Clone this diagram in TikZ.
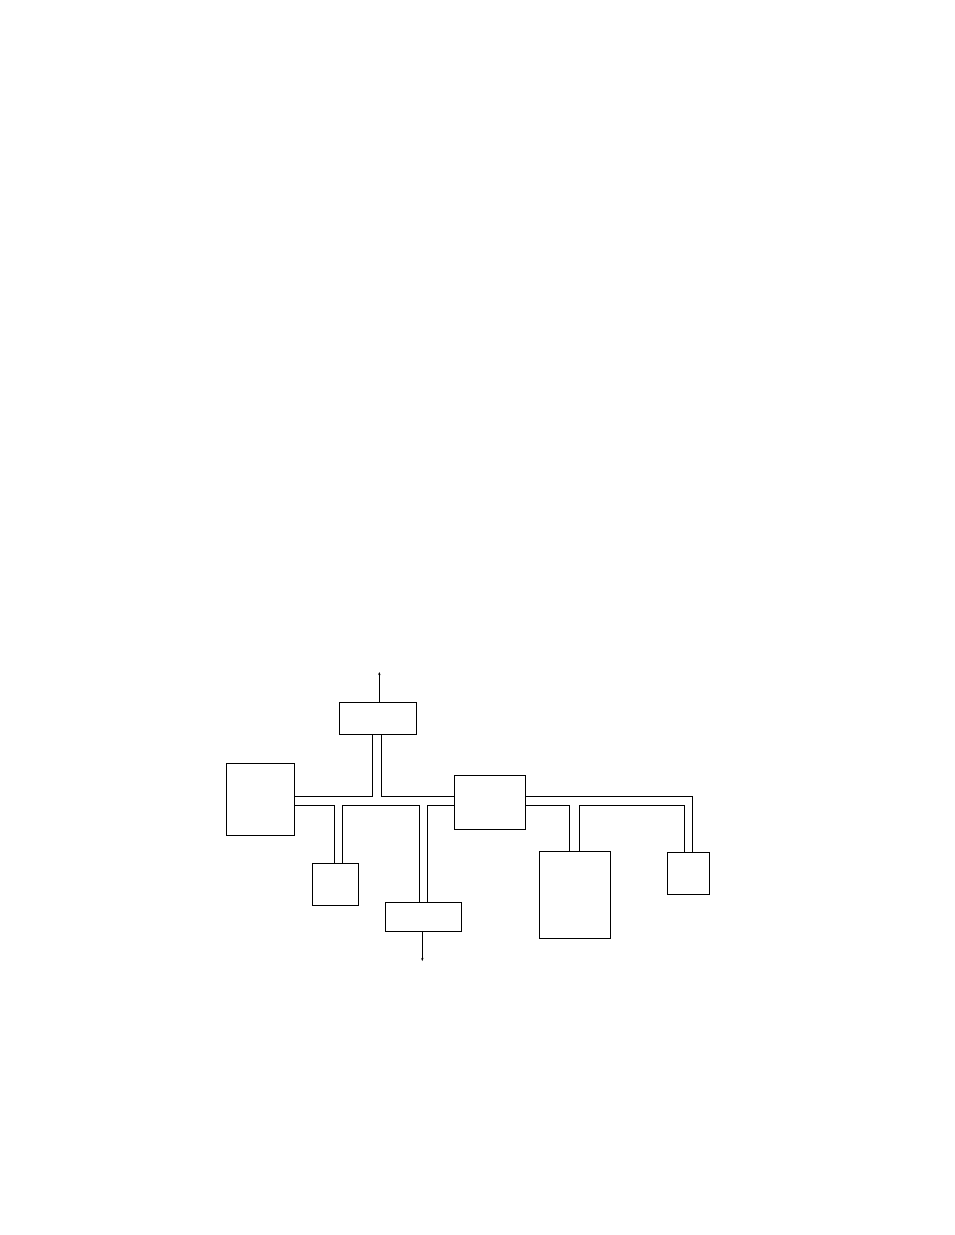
\documentclass[tikz,border=0pt]{standalone}
\usetikzlibrary{arrows.meta}
\begin{document}
\begin{tikzpicture}[x=1pt,y=-1pt,
  blk/.style={draw,line width=0.8pt,inner sep=0pt,rectangle},
  bus/.style={line width=0.8pt},
  arr/.style={line width=0.8pt,-{Stealth[length=3pt,width=2.4pt]}}]
\useasboundingbox (0,0) rectangle (954,1235);
\node[blk,minimum width=77pt,minimum height=32pt] (top) at (377.8,718.3) {};
\node[blk,minimum width=68pt,minimum height=72pt] (left) at (260.3,799.3) {};
\node[blk,minimum width=46pt,minimum height=42pt] (small) at (335.3,884.3) {};
\node[blk,minimum width=76pt,minimum height=29pt] (bot) at (423.3,916.8) {};
\node[blk,minimum width=71pt,minimum height=54pt] (mid) at (489.8,802.3) {};
\node[blk,minimum width=71pt,minimum height=87.3pt] (tall) at (574.8,894.7) {};
\node[blk,minimum width=42pt,minimum height=42pt] (right) at (688.3,873.3) {};
\coordinate (uptip) at (379.3,672);
\coordinate (dntip) at (422.3,961);
% upper bus left
\draw[bus] (left.east |- 0,796.3) -| (top.south -| 372.7,0);
\draw[bus] (top.south -| 381.3,0) |- (mid.west |- 0,796.3);
% lower bus left
\draw[bus] (left.east |- 0,805.3) -| (small.north -| 334.7,0);
\draw[bus] (small.north -| 342.3,0) |- (419.7,805.3) -- (bot.north -| 419.7,0);
\draw[bus] (bot.north -| 427.3,0) |- (mid.west |- 0,805.3);
% right side
\draw[bus] (mid.east |- 0,796.3) -| (right.north -| 692.3,0);
\draw[bus] (mid.east |- 0,805.3) -| (tall.north -| 569.3,0);
\draw[bus] (tall.north -| 579,0) |- (684.7,805.3) -- (right.north -| 684.7,0);
% arrows
\draw[arr] (top.north -| uptip) -- (uptip);
\draw[arr] (bot.south -| dntip) -- (dntip);
\end{tikzpicture}
\end{document}
